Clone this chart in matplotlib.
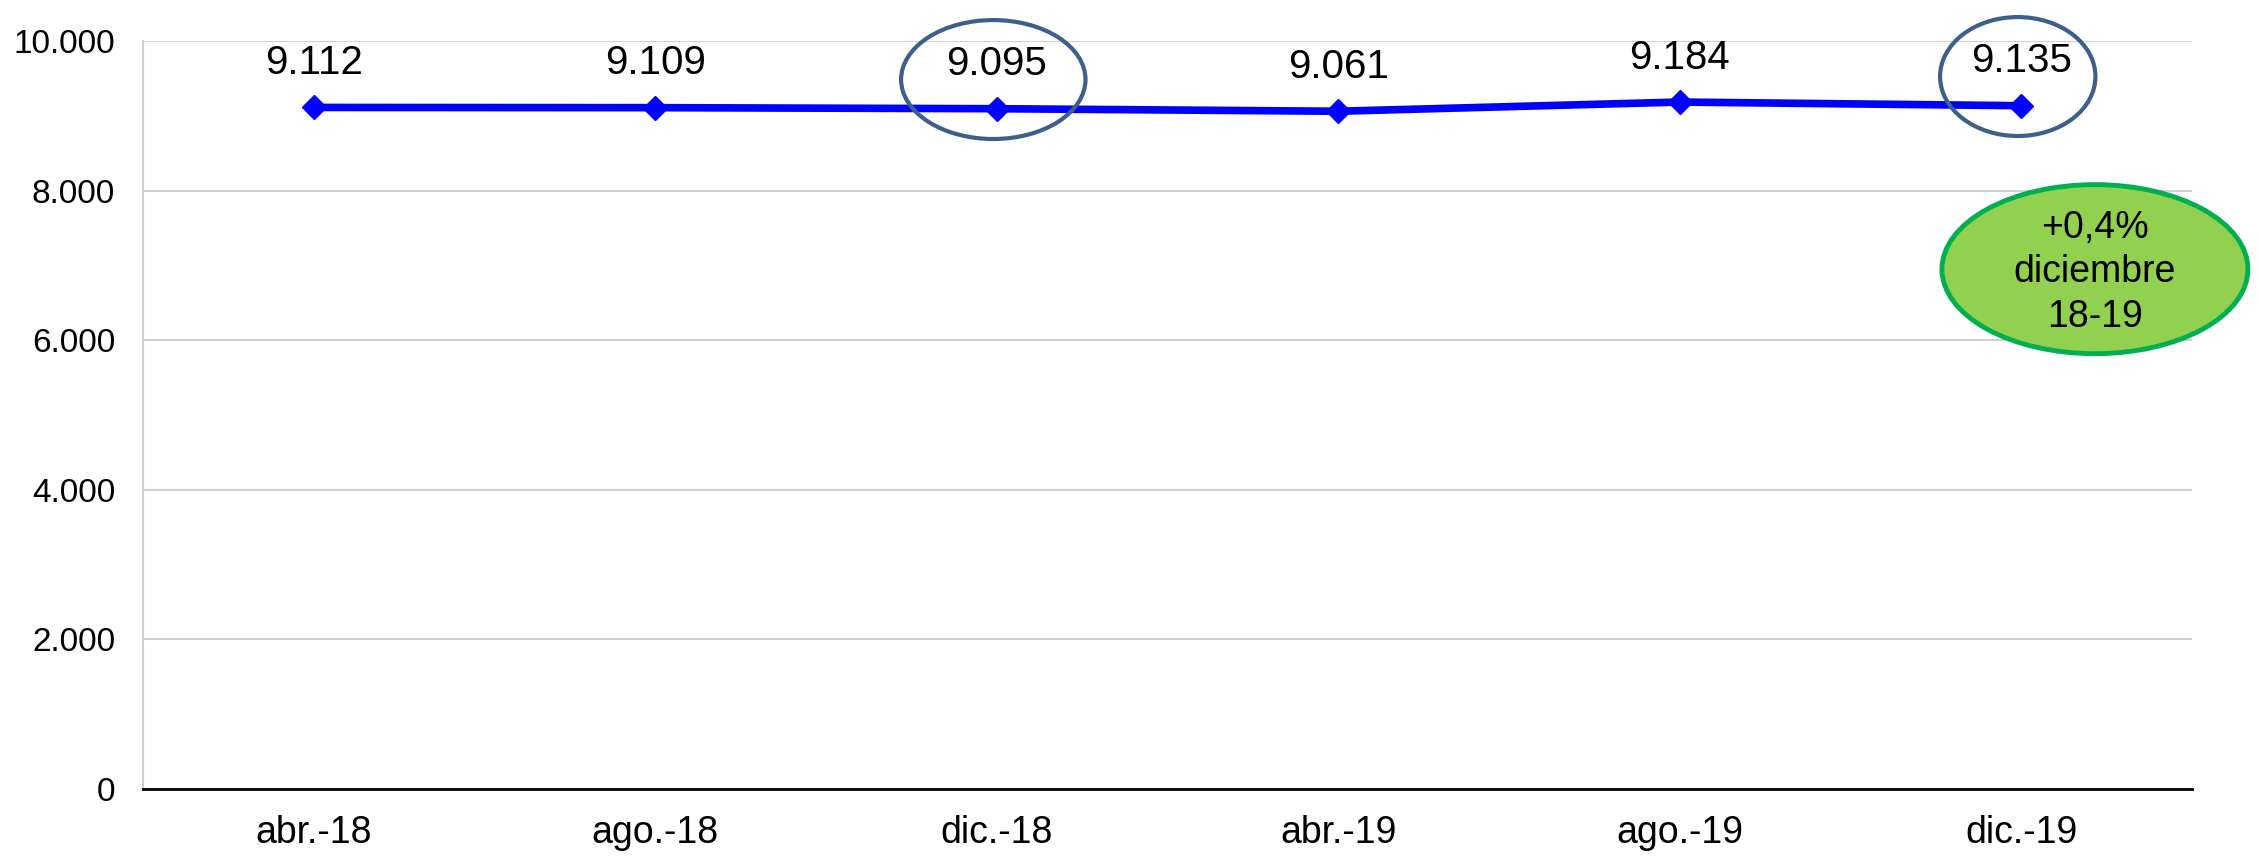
import matplotlib
matplotlib.use('Agg')
import matplotlib.pyplot as plt
from matplotlib.patches import Ellipse

plt.rcParams['font.family'] = ['Liberation Sans', 'DejaVu Sans']

meses = ['abr.-18', 'ago.-18', 'dic.-18', 'abr.-19', 'ago.-19', 'dic.-19']
valores = [9112, 9109, 9095, 9061, 9184, 9135]
etiquetas = ['9.112', '9.109', '9.095', '9.061', '9.184', '9.135']
yticks = [0, 2000, 4000, 6000, 8000, 10000]
yticklabels = ['0', '2.000', '4.000', '6.000', '8.000', '10.000']
texto_variacion = '+0,4%\ndiciembre\n18-19'
destacados = [2, 5]  # puntos rodeados con elipse

fig = plt.figure(figsize=(22.59, 8.58), dpi=100)
ax = fig.add_axes([0.0633, 0.0804, 0.907, 0.8718])

x = list(range(len(meses)))
ax.plot(x, valores, color='#0000FF', lw=5.5, marker='D', markersize=12.5, zorder=3)

for i, (v, t) in enumerate(zip(valores, etiquetas)):
    ax.annotate(t, (i, v), xytext=(0, 32), textcoords='offset points',
                ha='center', va='center', fontsize=29)

# elipses alrededor de los valores de diciembre
for i in destacados:
    w = 0.54 if i == 2 else 0.455
    e = Ellipse((i - 0.01, valores[i] + 390), w, 1590, fill=False,
                edgecolor='#3D5F8C', lw=3, clip_on=False, zorder=4)
    ax.add_patch(e)

# elipse verde con la variacion
e = Ellipse((5.216, 6950), 0.896, 2260, facecolor='#92D050',
            edgecolor='#00B050', lw=3.5, clip_on=False, zorder=4)
ax.add_patch(e)
ax.text(5.216, 6910, texto_variacion, ha='center', va='center',
        fontsize=27, linespacing=1.3, zorder=5)

ax.set_xlim(-0.5, 5.5)
ax.set_ylim(0, 10000)
ax.set_xticks(x)
ax.set_xticklabels(meses, fontsize=27)
ax.set_yticks(yticks)
ax.set_yticklabels(yticklabels, fontsize=24)
ax.tick_params(length=0)
ax.tick_params(axis='x', pad=19)
ax.tick_params(axis='y', pad=20)

ax.grid(axis='y', color='#D0D0D0', lw=1.5)
ax.set_axisbelow(True)
for s in ['top', 'right']:
    ax.spines[s].set_visible(False)
ax.spines['left'].set_color('#D0D0D0')
ax.spines['left'].set_linewidth(1.5)
ax.spines['bottom'].set_color('black')
ax.spines['bottom'].set_linewidth(2)

fig.savefig('out.png', dpi=100)
